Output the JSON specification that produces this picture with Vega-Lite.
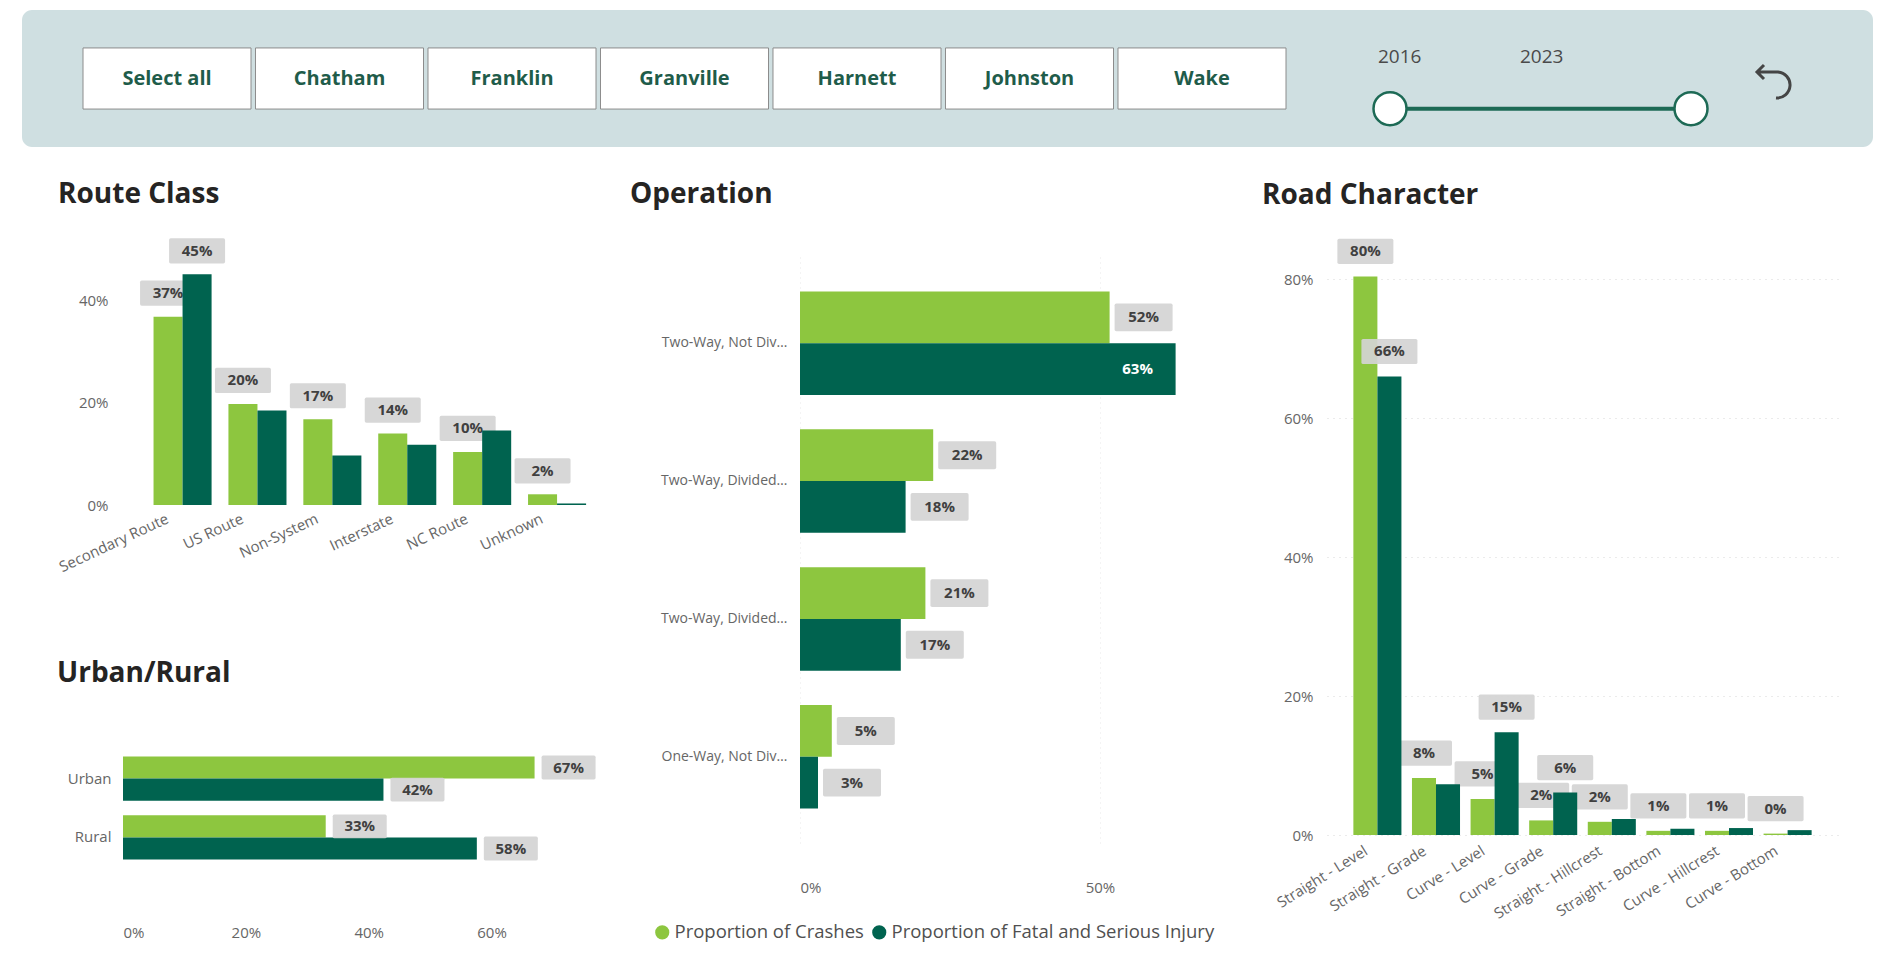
{
  "$schema": "https://vega.github.io/schema/vega-lite/v6.json",
  "padding": {"left": 22, "top": 10, "right": 0, "bottom": 0},
  "background": "white",
  "config": {
    "font": "Open Sans",
    "view": {"stroke": null},
    "axis": {"domain": false, "ticks": false, "grid": false, "labelFont": "Open Sans", "labelFontSize": 15, "labelColor": "#666666", "labelOverlap": false},
    "title": {"font": "Open Sans", "fontSize": 28, "fontWeight": "bold", "color": "#252423", "anchor": "start", "frame": "group"}
  },
  "datasets": {
    "route": [
      {"cat": "Secondary Route", "series": "Proportion of Crashes", "value": 0.369},
      {"cat": "Secondary Route", "series": "Proportion of Fatal and Serious Injury", "value": 0.452},
      {"cat": "US Route", "series": "Proportion of Crashes", "value": 0.198},
      {"cat": "US Route", "series": "Proportion of Fatal and Serious Injury", "value": 0.185},
      {"cat": "Non-System", "series": "Proportion of Crashes", "value": 0.168},
      {"cat": "Non-System", "series": "Proportion of Fatal and Serious Injury", "value": 0.097},
      {"cat": "Interstate", "series": "Proportion of Crashes", "value": 0.14},
      {"cat": "Interstate", "series": "Proportion of Fatal and Serious Injury", "value": 0.118},
      {"cat": "NC Route", "series": "Proportion of Crashes", "value": 0.104},
      {"cat": "NC Route", "series": "Proportion of Fatal and Serious Injury", "value": 0.146},
      {"cat": "Unknown", "series": "Proportion of Crashes", "value": 0.021},
      {"cat": "Unknown", "series": "Proportion of Fatal and Serious Injury", "value": 0.003}
    ],
    "urban": [
      {"cat": "Urban", "series": "Proportion of Crashes", "value": 0.67},
      {"cat": "Urban", "series": "Proportion of Fatal and Serious Injury", "value": 0.424},
      {"cat": "Rural", "series": "Proportion of Crashes", "value": 0.33},
      {"cat": "Rural", "series": "Proportion of Fatal and Serious Injury", "value": 0.576}
    ],
    "operation": [
      {"cat": "Two-Way, Not Divided", "series": "Proportion of Crashes", "value": 0.516},
      {"cat": "Two-Way, Not Divided", "series": "Proportion of Fatal and Serious Injury", "value": 0.626},
      {"cat": "Two-Way, Divided, Unprotected Median", "series": "Proportion of Crashes", "value": 0.222},
      {"cat": "Two-Way, Divided, Unprotected Median", "series": "Proportion of Fatal and Serious Injury", "value": 0.176},
      {"cat": "Two-Way, Divided, Positive Median Barrier", "series": "Proportion of Crashes", "value": 0.209},
      {"cat": "Two-Way, Divided, Positive Median Barrier", "series": "Proportion of Fatal and Serious Injury", "value": 0.168},
      {"cat": "One-Way, Not Divided", "series": "Proportion of Crashes", "value": 0.053},
      {"cat": "One-Way, Not Divided", "series": "Proportion of Fatal and Serious Injury", "value": 0.03}
    ],
    "road": [
      {"cat": "Straight - Level", "series": "Proportion of Crashes", "value": 0.804},
      {"cat": "Straight - Level", "series": "Proportion of Fatal and Serious Injury", "value": 0.66},
      {"cat": "Straight - Grade", "series": "Proportion of Crashes", "value": 0.082},
      {"cat": "Straight - Grade", "series": "Proportion of Fatal and Serious Injury", "value": 0.073},
      {"cat": "Curve - Level", "series": "Proportion of Crashes", "value": 0.052},
      {"cat": "Curve - Level", "series": "Proportion of Fatal and Serious Injury", "value": 0.148},
      {"cat": "Curve - Grade", "series": "Proportion of Crashes", "value": 0.021},
      {"cat": "Curve - Grade", "series": "Proportion of Fatal and Serious Injury", "value": 0.061},
      {"cat": "Straight - Hillcrest", "series": "Proportion of Crashes", "value": 0.019},
      {"cat": "Straight - Hillcrest", "series": "Proportion of Fatal and Serious Injury", "value": 0.023},
      {"cat": "Straight - Bottom", "series": "Proportion of Crashes", "value": 0.006},
      {"cat": "Straight - Bottom", "series": "Proportion of Fatal and Serious Injury", "value": 0.009},
      {"cat": "Curve - Hillcrest", "series": "Proportion of Crashes", "value": 0.006},
      {"cat": "Curve - Hillcrest", "series": "Proportion of Fatal and Serious Injury", "value": 0.01},
      {"cat": "Curve - Bottom", "series": "Proportion of Crashes", "value": 0.002},
      {"cat": "Curve - Bottom", "series": "Proportion of Fatal and Serious Injury", "value": 0.007}
    ]
  },
  "spacing": 34,
  "resolve": {"scale": {"xOffset": "independent", "yOffset": "independent"}},
  "vconcat": [
    {
      "width": 1750,
      "height": 137,
      "resolve": {"scale": {"x": "independent"}},
      "layer": [
        {
          "data": {"values": [{"panel": "filters"}]},
          "mark": {"type": "rect", "fill": "#cfdfe1", "cornerRadius": 10},
          "encoding": {
            "x": {"datum": 0, "type": "quantitative", "scale": {"domain": [0, 1], "range": [-101, 1750], "nice": false, "zero": false}, "axis": null},
            "x2": {"datum": 1},
            "y": {"datum": 0, "type": "quantitative", "scale": {"domain": [0, 1], "nice": false, "zero": false}, "axis": null},
            "y2": {"datum": 1}
          }
        },
        {
          "data": {"values": [{"county": "Select all"}, {"county": "Chatham"}, {"county": "Franklin"}, {"county": "Granville"}, {"county": "Harnett"}, {"county": "Johnston"}, {"county": "Wake"}]},
          "encoding": {
            "x": {"field": "county", "type": "nominal", "sort": null, "scale": {"range": [-40, 1163], "paddingInner": 0.026, "paddingOuter": 0}, "axis": null},
            "y": {"datum": 0.277, "type": "quantitative", "scale": {"domain": [0, 1], "nice": false, "zero": false}, "axis": null}
          },
          "layer": [
            {"mark": {"type": "bar", "fill": "white", "stroke": "#8c8c8c", "strokeWidth": 1}, "encoding": {"y2": {"datum": 0.723}}},
            {"mark": {"type": "text", "font": "Open Sans", "fontSize": 20, "fontWeight": "bold", "color": "#1f5c4a"}, "encoding": {"y": {"datum": 0.5, "type": "quantitative", "scale": {"domain": [0, 1], "nice": false, "zero": false}, "axis": null}, "text": {"field": "county"}}}
          ]
        },
        {
          "data": {"values": [{"year": 2016}, {"year": 2023}]},
          "encoding": {
            "x": {"field": "year", "type": "quantitative", "scale": {"domain": [2016, 2023], "range": [1267, 1568], "zero": false, "nice": false}, "axis": null},
            "y": {"datum": 0.28, "type": "quantitative", "scale": {"domain": [0, 1], "nice": false, "zero": false}, "axis": null}
          },
          "layer": [
            {"mark": {"type": "line", "color": "#1d6a55", "strokeWidth": 4}},
            {"mark": {"type": "point", "shape": "circle", "filled": true, "fill": "white", "stroke": "#1d6a55", "strokeWidth": 2.5, "size": 1089, "opacity": 1}}
          ]
        },
        {
          "data": {"values": [{"year": 2016}, {"year": 2023}]},
          "mark": {"type": "text", "align": "left", "baseline": "middle", "fontSize": 19, "font": "Open Sans", "color": "#4a4a4a"},
          "encoding": {
            "x": {"field": "year", "type": "ordinal", "scale": {"type": "point", "range": [1255, 1397], "padding": 0}, "axis": null},
            "y": {"datum": 0.658, "type": "quantitative", "scale": {"domain": [0, 1], "nice": false, "zero": false}, "axis": null},
            "text": {"field": "year", "type": "ordinal"}
          }
        },
        {
          "data": {"values": [{"icon": "reset"}]},
          "mark": {"type": "point", "shape": "M-0.55,-0.8L-0.9,-0.45L-0.55,-0.1M-0.9,-0.45H0.15A0.65,0.65 0 0 1 0.05,0.85", "filled": false, "stroke": "#454545", "strokeWidth": 3, "size": 1600, "opacity": 1},
          "encoding": {
            "x": {"field": "icon", "type": "nominal", "scale": {"type": "point", "range": [1600, 1704], "padding": 0.5}, "axis": null},
            "y": {"datum": 0.482, "type": "quantitative", "scale": {"domain": [0, 1], "nice": false, "zero": false}, "axis": null}
          }
        }
      ]
    },
    {
      "spacing": 34,
      "resolve": {"scale": {"xOffset": "independent", "yOffset": "independent"}},
      "hconcat": [
        {
          "spacing": 85,
          "resolve": {"scale": {"xOffset": "independent", "yOffset": "independent"}},
          "vconcat": [
            {
              "width": 471.5,
              "height": 248,
              "title": {"text": "Route Class", "dx": -65, "offset": 29},
              "data": {"name": "route"},
              "encoding": {
                "x": {"field": "cat", "type": "nominal", "sort": null, "title": null,
                  "scale": {"domain": ["Secondary Route", "US Route", "Non-System", "Interstate", "NC Route", "Unknown"], "paddingInner": 0.225, "paddingOuter": 0.26, "align": 0.784},
                  "axis": {"labelAngle": -25, "labelPadding": 6, "labelOffset": -18}},
                "xOffset": {"field": "series", "type": "nominal", "scale": {"domain": ["Proportion of Crashes", "Proportion of Fatal and Serious Injury"], "paddingInner": 0}},
                "y": {"field": "value", "type": "quantitative", "title": null, "scale": {"domain": [0, 0.486], "nice": false},
                  "axis": {"values": [0, 0.2, 0.4], "format": ".0%", "labelPadding": 15}}
              },
              "layer": [
                {"transform": [{"filter": "datum.series == 'Proportion of Crashes'"}], "mark": {"type": "bar"},
                  "encoding": {"color": {"field": "series", "type": "nominal", "scale": {"domain": ["Proportion of Crashes", "Proportion of Fatal and Serious Injury"], "range": ["#8DC63F", "#00634F"]},
                    "legend": {"orient": "none", "legendX": 530, "legendY": 913, "direction": "horizontal", "title": null, "symbolType": "circle", "symbolSize": 200, "symbolStrokeWidth": 0, "labelFontSize": 18.5, "labelColor": "#505050", "labelFont": "Open Sans", "columnPadding": 6, "labelOffset": 3, "padding": 0, "labelLimit": 400}}}},
                {"transform": [{"filter": "datum.series == 'Proportion of Crashes'"}],
                  "mark": {"type": "point", "shape": "M-0.94,-0.45H0.94Q1,-0.45 1,-0.39V0.39Q1,0.45 0.94,0.45H-0.94Q-1,0.45 -1,0.39V-0.39Q-1,-0.45 -0.94,-0.45Z", "size": 3136, "filled": true, "fill": "#d4d4d4", "strokeWidth": 0, "opacity": 0.92, "yOffset": -23.5}},
                {"transform": [{"filter": "datum.series == 'Proportion of Crashes'"}],
                  "mark": {"type": "text", "font": "Open Sans", "fontWeight": "bold", "fontSize": 15, "color": "#404040", "baseline": "middle", "dy": -23.5},
                  "encoding": {"text": {"field": "value", "type": "quantitative", "format": ".0%"}}},
                {"transform": [{"filter": "datum.series == 'Proportion of Fatal and Serious Injury'"}], "mark": {"type": "bar"},
                  "encoding": {"color": {"field": "series", "type": "nominal", "scale": {"domain": ["Proportion of Crashes", "Proportion of Fatal and Serious Injury"], "range": ["#8DC63F", "#00634F"]},
                    "legend": {"orient": "none", "legendX": 530, "legendY": 913, "direction": "horizontal", "title": null, "symbolType": "circle", "symbolSize": 200, "symbolStrokeWidth": 0, "labelFontSize": 18.5, "labelColor": "#505050", "labelFont": "Open Sans", "columnPadding": 6, "labelOffset": 3, "padding": 0, "labelLimit": 400}}}},
                {"transform": [{"filter": "datum.series == 'Proportion of Fatal and Serious Injury' && datum.value > 0.4"}],
                  "mark": {"type": "point", "shape": "M-0.94,-0.45H0.94Q1,-0.45 1,-0.39V0.39Q1,0.45 0.94,0.45H-0.94Q-1,0.45 -1,0.39V-0.39Q-1,-0.45 -0.94,-0.45Z", "size": 3136, "filled": true, "fill": "#d4d4d4", "strokeWidth": 0, "opacity": 0.92, "yOffset": -23.5}},
                {"transform": [{"filter": "datum.series == 'Proportion of Fatal and Serious Injury' && datum.value > 0.4"}],
                  "mark": {"type": "text", "font": "Open Sans", "fontWeight": "bold", "fontSize": 15, "color": "#404040", "baseline": "middle", "dy": -23.5},
                  "encoding": {"text": {"field": "value", "type": "quantitative", "format": ".0%"}}}
              ]
            },
            {
              "width": 430,
              "height": 162,
              "title": {"text": "Urban/Rural", "dx": -66, "offset": 38.8},
              "data": {"name": "urban"},
              "encoding": {
                "y": {"field": "cat", "type": "nominal", "sort": null, "title": null,
                  "scale": {"domain": ["Urban", "Rural"], "paddingInner": 0.25, "paddingOuter": 0.5},
                  "axis": {"labelPadding": 12}},
                "yOffset": {"field": "series", "type": "nominal", "scale": {"domain": ["Proportion of Crashes", "Proportion of Fatal and Serious Injury"], "paddingInner": 0}},
                "x": {"field": "value", "type": "quantitative", "title": null, "scale": {"domain": [0, 0.7], "nice": false},
                  "axis": {"values": [0, 0.2, 0.4, 0.6], "format": ".0%", "labelPadding": 36}}
              },
              "layer": [
                {"mark": {"type": "bar"},
                  "encoding": {"color": {"field": "series", "type": "nominal", "scale": {"domain": ["Proportion of Crashes", "Proportion of Fatal and Serious Injury"], "range": ["#8DC63F", "#00634F"]},
                    "legend": {"orient": "none", "legendX": 530, "legendY": 913, "direction": "horizontal", "title": null, "symbolType": "circle", "symbolSize": 200, "symbolStrokeWidth": 0, "labelFontSize": 18.5, "labelColor": "#505050", "labelFont": "Open Sans", "columnPadding": 6, "labelOffset": 3, "padding": 0, "labelLimit": 400}}}},
                {"mark": {"type": "point", "shape": "M-0.94,-0.44H0.94Q1,-0.44 1,-0.38V0.38Q1,0.44 0.94,0.44H-0.94Q-1,0.44 -1,0.38V-0.38Q-1,-0.44 -0.94,-0.44Z", "size": 2916, "filled": true, "fill": "#d4d4d4", "strokeWidth": 0, "opacity": 0.92, "xOffset": 34}},
                {"mark": {"type": "text", "font": "Open Sans", "fontWeight": "bold", "fontSize": 15, "color": "#404040", "baseline": "middle", "align": "center", "dx": 34},
                  "encoding": {"text": {"field": "value", "type": "quantitative", "format": ".0%"}}}
              ]
            }
          ]
        },
        {
          "width": 428,
          "height": 586,
          "title": {"text": "Operation", "dx": -170, "offset": 47.6},
          "data": {"name": "operation"},
          "encoding": {
            "y": {"field": "cat", "type": "nominal", "sort": null, "title": null,
              "scale": {"domain": ["Two-Way, Not Divided", "Two-Way, Divided, Unprotected Median", "Two-Way, Divided, Positive Median Barrier", "One-Way, Not Divided"], "paddingInner": 0.25, "paddingOuter": 0.25},
              "axis": {"labelPadding": 13, "labelLimit": 128, "labelFontSize": 14}},
            "yOffset": {"field": "series", "type": "nominal", "scale": {"domain": ["Proportion of Crashes", "Proportion of Fatal and Serious Injury"], "paddingInner": 0}},
            "x": {"field": "value", "type": "quantitative", "title": null, "scale": {"domain": [0, 0.71333], "nice": false},
              "axis": {"values": [0, 0.5], "format": ".0%", "labelPadding": 37, "grid": true, "gridDash": [1, 4], "gridColor": "#e8e8e8"}}
          },
          "layer": [
            {"mark": {"type": "bar"},
              "encoding": {"color": {"field": "series", "type": "nominal", "scale": {"domain": ["Proportion of Crashes", "Proportion of Fatal and Serious Injury"], "range": ["#8DC63F", "#00634F"]},
                "legend": {"orient": "none", "legendX": 530, "legendY": 913, "direction": "horizontal", "title": null, "symbolType": "circle", "symbolSize": 200, "symbolStrokeWidth": 0, "labelFontSize": 18.5, "labelColor": "#505050", "labelFont": "Open Sans", "columnPadding": 6, "labelOffset": 3, "padding": 0, "labelLimit": 400}}}},
            {"transform": [{"filter": "datum.value < 0.6"}],
              "mark": {"type": "point", "shape": "M-0.94,-0.48H0.94Q1,-0.48 1,-0.42V0.42Q1,0.48 0.94,0.48H-0.94Q-1,0.48 -1,0.42V-0.42Q-1,-0.48 -0.94,-0.48Z", "size": 3364, "filled": true, "fill": "#d4d4d4", "strokeWidth": 0, "opacity": 0.92, "xOffset": 34}},
            {"transform": [{"filter": "datum.value < 0.6"}],
              "mark": {"type": "text", "font": "Open Sans", "fontWeight": "bold", "fontSize": 15, "color": "#404040", "baseline": "middle", "align": "center", "dx": 34},
              "encoding": {"text": {"field": "value", "type": "quantitative", "format": ".0%"}}},
            {"transform": [{"filter": "datum.value >= 0.6"}],
              "mark": {"type": "text", "font": "Open Sans", "fontWeight": "bold", "fontSize": 15, "color": "white", "baseline": "middle", "align": "center", "dx": -38},
              "encoding": {"text": {"field": "value", "type": "quantitative", "format": ".0%"}}}
          ]
        },
        {
          "width": 511,
          "height": 578,
          "title": {"text": "Road Character", "dx": -65, "offset": 29.2},
          "data": {"name": "road"},
          "encoding": {
            "x": {"field": "cat", "type": "nominal", "sort": null, "title": null,
              "scale": {"domain": ["Straight - Level", "Straight - Grade", "Curve - Level", "Curve - Grade", "Straight - Hillcrest", "Straight - Bottom", "Curve - Hillcrest", "Curve - Bottom"], "paddingInner": 0.18, "paddingOuter": 0.45},
              "axis": {"labelAngle": -32, "labelPadding": 8, "labelOffset": -15}},
            "xOffset": {"field": "series", "type": "nominal", "scale": {"domain": ["Proportion of Crashes", "Proportion of Fatal and Serious Injury"], "paddingInner": 0}},
            "y": {"field": "value", "type": "quantitative", "title": null, "scale": {"domain": [0, 0.832], "nice": false},
              "axis": {"values": [0, 0.2, 0.4, 0.6, 0.8], "format": ".0%", "labelPadding": 14, "grid": true, "gridDash": [1, 5], "gridColor": "#d6d6d6"}}
          },
          "layer": [
            {"transform": [{"filter": "datum.series == 'Proportion of Crashes'"}], "mark": {"type": "bar"},
              "encoding": {"color": {"field": "series", "type": "nominal", "scale": {"domain": ["Proportion of Crashes", "Proportion of Fatal and Serious Injury"], "range": ["#8DC63F", "#00634F"]},
                "legend": {"orient": "none", "legendX": 530, "legendY": 913, "direction": "horizontal", "title": null, "symbolType": "circle", "symbolSize": 200, "symbolStrokeWidth": 0, "labelFontSize": 18.5, "labelColor": "#505050", "labelFont": "Open Sans", "columnPadding": 6, "labelOffset": 3, "padding": 0, "labelLimit": 400}}}},
            {"transform": [{"filter": "datum.series == 'Proportion of Crashes'"}],
              "mark": {"type": "point", "shape": "M-0.94,-0.45H0.94Q1,-0.45 1,-0.39V0.39Q1,0.45 0.94,0.45H-0.94Q-1,0.45 -1,0.39V-0.39Q-1,-0.45 -0.94,-0.45Z", "size": 3136, "filled": true, "fill": "#d4d4d4", "strokeWidth": 0, "opacity": 0.92, "yOffset": -25}},
            {"transform": [{"filter": "datum.series == 'Proportion of Crashes'"}],
              "mark": {"type": "text", "font": "Open Sans", "fontWeight": "bold", "fontSize": 15, "color": "#404040", "baseline": "middle", "dy": -25},
              "encoding": {"text": {"field": "value", "type": "quantitative", "format": ".0%"}}},
            {"transform": [{"filter": "datum.series == 'Proportion of Fatal and Serious Injury'"}], "mark": {"type": "bar"},
              "encoding": {"color": {"field": "series", "type": "nominal", "scale": {"domain": ["Proportion of Crashes", "Proportion of Fatal and Serious Injury"], "range": ["#8DC63F", "#00634F"]},
                "legend": {"orient": "none", "legendX": 530, "legendY": 913, "direction": "horizontal", "title": null, "symbolType": "circle", "symbolSize": 200, "symbolStrokeWidth": 0, "labelFontSize": 18.5, "labelColor": "#505050", "labelFont": "Open Sans", "columnPadding": 6, "labelOffset": 3, "padding": 0, "labelLimit": 400}}}},
            {"transform": [{"filter": "datum.series == 'Proportion of Fatal and Serious Injury' && indexof(['Straight - Level', 'Curve - Level', 'Curve - Grade'], datum.cat) >= 0"}],
              "mark": {"type": "point", "shape": "M-0.94,-0.45H0.94Q1,-0.45 1,-0.39V0.39Q1,0.45 0.94,0.45H-0.94Q-1,0.45 -1,0.39V-0.39Q-1,-0.45 -0.94,-0.45Z", "size": 3136, "filled": true, "fill": "#d4d4d4", "strokeWidth": 0, "opacity": 0.92, "yOffset": -25}},
            {"transform": [{"filter": "datum.series == 'Proportion of Fatal and Serious Injury' && indexof(['Straight - Level', 'Curve - Level', 'Curve - Grade'], datum.cat) >= 0"}],
              "mark": {"type": "text", "font": "Open Sans", "fontWeight": "bold", "fontSize": 15, "color": "#404040", "baseline": "middle", "dy": -25},
              "encoding": {"text": {"field": "value", "type": "quantitative", "format": ".0%"}}}
          ]
        }
      ]
    }
  ]
}
